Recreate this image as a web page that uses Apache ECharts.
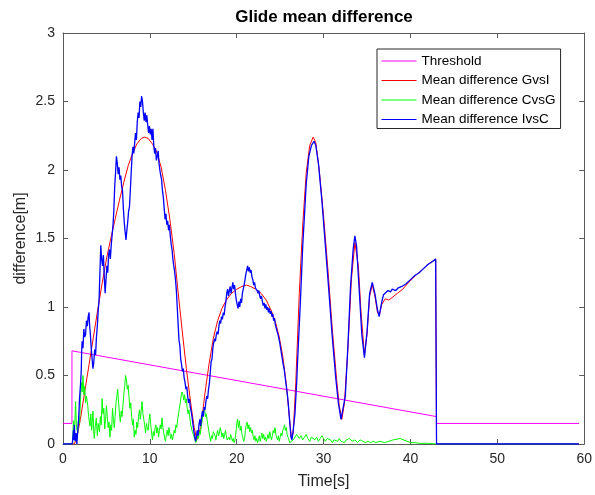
<!DOCTYPE html>
<html>
<head>
<meta charset="utf-8">
<script src="https://cdn.jsdelivr.net/npm/echarts@6/dist/echarts.min.js"></script>
<style>
  html, body { margin: 0; padding: 0; background: #fff; }
  #chart { width: 595px; height: 495px; }
</style>
</head>
<body>
<div id="chart"></div>
<script>
// values, [time s, difference m]
var threshold = [[0, 0.15], [1.03, 0.15], [1.03, 0.68], [43, 0.2], [43, 0.15], [59.4, 0.15]];

var gvsI = [[0,0],[1.3,0],[1.6,0.05],[2,0.18],[2.5,0.38],[3,0.58],[3.5,0.78],[4,0.98],[4.5,1.17],[5,1.35],[5.5,1.5],[6,1.64],[6.5,1.78],[7,1.91],[7.5,2.03],[8,2.12],[8.5,2.19],[9,2.23],[9.4,2.24],[9.8,2.23],[10.3,2.19],[10.8,2.13],[11.3,2.02],[11.8,1.85],[12.3,1.64],[12.8,1.39],[13.2,1.14],[13.7,0.84],[14.2,0.55],[14.7,0.3],[15.1,0.12],[15.4,0.03],[15.6,0.02],[15.9,0.13],[16.3,0.35],[16.8,0.58],[17.3,0.77],[17.8,0.9],[18.3,0.99],[18.8,1.05],[19.4,1.1],[20,1.13],[20.6,1.15],[21.1,1.16],[21.6,1.15],[22.2,1.13],[22.8,1.1],[23.4,1.05],[24,0.97],[24.5,0.88],[24.9,0.78],[25.3,0.64],[25.7,0.44],[26,0.24],[26.3,0.04],[26.5,0.08],[26.8,0.45],[27.2,1.1],[27.6,1.6],[28,1.98],[28.4,2.18],[28.8,2.24],[29.1,2.2],[29.5,2.0],[30,1.66],[30.5,1.27],[31,0.84],[31.5,0.47],[31.8,0.28],[32.1,0.18],[32.4,0.3],[32.8,0.7],[33.2,1.2],[33.6,1.47],[34,1.3],[34.3,0.97],[34.7,0.65],[35,0.8],[35.3,1.08],[35.6,1.16],[35.9,1.08],[36.2,0.96],[36.4,0.94],[36.7,1.02],[37.1,1.06],[37.5,1.05],[37.9,1.07],[38.5,1.1],[39.1,1.13],[39.8,1.18],[40.6,1.23],[41.3,1.27],[42,1.31],[42.9,1.35],[43,1.35],[43,0],[59.4,0]];

var cvsG = [[0,0],[1.1,0],[1.2,0.17],[1.3,0.05],[1.45,0.31],[1.55,0.12],[1.7,0.08],[1.8,0.2],[1.9,0.15],[2.0,0.3],[2.1,0.45],[2.2,0.38],[2.3,0.5],[2.4,0.36],[2.5,0.42],[2.6,0.3],[2.7,0.35],[2.85,0.28],[2.95,0.2],[3.1,0.13],[3.2,0.22],[3.3,0.1],[3.45,0.24],[3.55,0.08],[3.6,0.04],[3.7,0.12],[3.83,0.19],[3.95,0.06],[4.05,0.15],[4.2,0.09],[4.3,0.2],[4.4,0.14],[4.5,0.33],[4.6,0.22],[4.7,0.26],[4.8,0.11],[4.9,0.18],[5.0,0.28],[5.1,0.2],[5.2,0.12],[5.3,0.16],[5.4,0.05],[5.5,0.14],[5.6,0.1],[5.7,0.26],[5.8,0.18],[5.9,0.12],[6.0,0.2],[6.1,0.3],[6.2,0.35],[6.3,0.4],[6.4,0.3],[6.5,0.22],[6.6,0.16],[6.7,0.24],[6.8,0.2],[6.9,0.28],[7.0,0.36],[7.1,0.42],[7.2,0.5],[7.3,0.47],[7.4,0.4],[7.5,0.43],[7.6,0.34],[7.7,0.26],[7.8,0.3],[7.9,0.2],[8.0,0.14],[8.1,0.18],[8.2,0.05],[8.3,0.1],[8.4,0.07],[8.5,0.16],[8.6,0.12],[8.7,0.2],[8.8,0.25],[8.9,0.18],[9.0,0.24],[9.1,0.31],[9.2,0.22],[9.3,0.18],[9.4,0.14],[9.5,0.08],[9.6,0.15],[9.7,0.12],[9.8,0.1],[9.9,0.17],[10.0,0.22],[10.1,0.14],[10.2,0.08],[10.3,0.03],[10.4,0.09],[10.5,0.06],[10.6,0.12],[10.7,0.14],[10.8,0.08],[10.9,0.12],[11.0,0.05],[11.1,0.1],[11.2,0.14],[11.3,0.11],[11.4,0.19],[11.5,0.12],[11.6,0.08],[11.7,0.04],[11.8,0.02],[11.9,0.07],[12.0,0.1],[12.1,0.06],[12.2,0.12],[12.3,0.08],[12.4,0.04],[12.5,0.07],[12.6,0.03],[12.7,0.06],[12.8,0.1],[12.9,0.08],[13.0,0.14],[13.1,0.12],[13.2,0.18],[13.3,0.22],[13.4,0.26],[13.5,0.3],[13.6,0.35],[13.7,0.38],[13.8,0.36],[13.9,0.32],[14.0,0.36],[14.1,0.3],[14.2,0.33],[14.3,0.26],[14.4,0.22],[14.5,0.25],[14.6,0.19],[14.7,0.14],[14.8,0.11],[14.9,0.09],[15.0,0.07],[15.1,0.05],[15.2,0.03],[15.3,0.01],[15.4,0.02],[15.5,0.06],[15.6,0.04],[15.7,0.09],[15.8,0.07],[15.9,0.12],[16.0,0.16],[16.1,0.21],[16.2,0.24],[16.3,0.26],[16.4,0.2],[16.5,0.22],[16.6,0.17],[16.7,0.16],[16.8,0.09],[16.9,0.05],[17.0,0.02],[17.1,0.06],[17.2,0.04],[17.3,0.09],[17.4,0.1],[17.5,0.06],[17.6,0.03],[17.7,0.07],[17.8,0.1],[17.9,0.06],[18.0,0.08],[18.1,0.12],[18.2,0.09],[18.3,0.05],[18.4,0.08],[18.5,0.04],[18.6,0.07],[18.7,0.1],[18.8,0.06],[18.9,0.03],[19.0,0.02],[19.1,0.05],[19.2,0.03],[19.3,0.07],[19.4,0.05],[19.5,0.02],[19.6,0.04],[19.7,0.01],[19.8,0.03],[19.9,0.08],[20.0,0.15],[20.1,0.18],[20.2,0.12],[20.3,0.17],[20.4,0.1],[20.5,0.13],[20.6,0.07],[20.7,0.05],[20.8,0.02],[20.9,0.04],[21.0,0.1],[21.1,0.14],[21.2,0.16],[21.3,0.11],[21.4,0.14],[21.5,0.09],[21.6,0.12],[21.7,0.08],[21.8,0.1],[21.9,0.05],[22.0,0.03],[22.1,0.06],[22.2,0.02],[22.3,0.04],[22.4,0.01],[22.5,0.03],[22.6,0.06],[22.7,0.02],[22.8,0.05],[22.9,0.08],[23.0,0.04],[23.1,0.07],[23.2,0.03],[23.3,0.05],[23.4,0.02],[23.5,0.04],[23.6,0.07],[23.7,0.04],[23.8,0.09],[23.9,0.06],[24.0,0.03],[24.1,0.06],[24.2,0.1],[24.3,0.08],[24.4,0.12],[24.5,0.07],[24.6,0.05],[24.7,0.03],[24.8,0.06],[24.9,0.02],[25.0,0.05],[25.1,0.08],[25.2,0.06],[25.3,0.1],[25.4,0.12],[25.5,0.14],[25.6,0.1],[25.7,0.12],[25.8,0.07],[25.9,0.05],[26.0,0.03],[26.1,0.01],[26.2,0.02],[26.3,0.0],[26.5,0.03],[26.7,0.05],[26.9,0.07],[27.0,0.06],[27.2,0.04],[27.4,0.06],[27.6,0.03],[27.8,0.05],[28.0,0.07],[28.2,0.04],[28.4,0.02],[28.6,0.05],[28.8,0.06],[29.0,0.03],[29.2,0.05],[29.4,0.02],[29.6,0.04],[29.8,0.06],[30.0,0.04],[30.2,0.02],[30.4,0.04],[30.6,0.05],[30.8,0.03],[31.0,0.01],[31.2,0.03],[31.4,0.04],[31.6,0.02],[31.8,0.04],[32.0,0.02],[32.2,0.03],[32.4,0.01],[32.6,0.03],[32.8,0.02],[33.0,0.04],[33.3,0.02],[33.6,0.03],[33.9,0.01],[34.2,0.03],[34.5,0.02],[34.8,0.01],[35.1,0.02],[35.4,0.01],[35.7,0.02],[36.0,0.01],[36.5,0.02],[37.0,0.01],[37.5,0.02],[38.0,0.03],[38.4,0.035],[38.8,0.04],[39.2,0.03],[39.6,0.02],[40.0,0.01],[40.5,0.01],[41,0.005],[42,0.005],[43,0],[59.4,0]];

var ivsC = [[0,0],[1.05,0],[1.1,0.02],[1.2,0.1],[1.25,0.03],[1.3,0.14],[1.4,0.02],[1.5,0.08],[1.6,0.0],[1.7,0.1],[1.8,0.18],[1.9,0.33],[2.0,0.42],[2.1,0.53],[2.15,0.68],[2.2,0.75],[2.3,0.7],[2.4,0.84],[2.5,0.78],[2.6,0.8],[2.7,0.9],[2.8,0.86],[2.9,0.93],[3.0,0.96],[3.05,0.88],[3.15,0.8],[3.25,0.7],[3.35,0.62],[3.45,0.55],[3.55,0.6],[3.65,0.69],[3.75,0.65],[3.85,0.78],[3.95,0.86],[4.05,0.97],[4.15,1.05],[4.25,1.25],[4.35,1.45],[4.45,1.35],[4.55,1.3],[4.65,1.38],[4.75,1.22],[4.85,1.1],[4.95,1.2],[5.05,1.3],[5.15,1.25],[5.25,1.38],[5.35,1.42],[5.45,1.35],[5.55,1.45],[5.65,1.52],[5.75,1.59],[5.85,1.7],[5.95,1.88],[6.05,1.98],[6.15,2.1],[6.25,2.05],[6.35,1.97],[6.45,2.02],[6.55,1.93],[6.65,1.96],[6.75,1.88],[6.85,1.85],[6.95,1.72],[7.05,1.62],[7.15,1.55],[7.25,1.49],[7.35,1.56],[7.45,1.62],[7.55,1.7],[7.65,1.73],[7.75,1.85],[7.85,1.98],[7.95,2.1],[8.05,2.17],[8.15,2.12],[8.25,2.2],[8.35,2.27],[8.45,2.22],[8.55,2.35],[8.65,2.42],[8.75,2.38],[8.85,2.5],[8.95,2.46],[9.05,2.54],[9.15,2.5],[9.25,2.42],[9.35,2.36],[9.45,2.42],[9.55,2.35],[9.65,2.4],[9.75,2.33],[9.85,2.27],[9.95,2.32],[10.05,2.26],[10.15,2.3],[10.25,2.22],[10.35,2.3],[10.45,2.18],[10.55,2.12],[10.65,2.16],[10.75,2.07],[10.85,2.1],[10.95,2.14],[11.05,2.05],[11.15,2.0],[11.25,1.96],[11.35,1.93],[11.45,1.85],[11.55,1.8],[11.65,1.72],[11.75,1.64],[11.85,1.68],[11.95,1.6],[12.05,1.63],[12.15,1.56],[12.25,1.6],[12.35,1.52],[12.45,1.46],[12.55,1.42],[12.65,1.35],[12.75,1.3],[12.85,1.26],[12.95,1.2],[13.05,1.12],[13.15,1.0],[13.25,0.88],[13.35,0.76],[13.45,0.72],[13.55,0.62],[13.65,0.58],[13.75,0.53],[13.85,0.55],[13.95,0.48],[14.05,0.45],[14.15,0.4],[14.25,0.42],[14.35,0.35],[14.45,0.3],[14.55,0.33],[14.65,0.27],[14.75,0.24],[14.85,0.2],[14.95,0.15],[15.05,0.1],[15.15,0.06],[15.25,0.02],[15.35,0.05],[15.45,0.1],[15.55,0.06],[15.65,0.14],[15.75,0.18],[15.85,0.13],[15.95,0.2],[16.05,0.24],[16.15,0.2],[16.25,0.27],[16.35,0.25],[16.45,0.31],[16.55,0.35],[16.65,0.33],[16.75,0.4],[16.85,0.44],[16.95,0.52],[17.05,0.6],[17.15,0.62],[17.25,0.7],[17.35,0.74],[17.45,0.77],[17.55,0.75],[17.65,0.8],[17.75,0.82],[17.85,0.8],[17.95,0.86],[18.05,0.9],[18.15,0.88],[18.25,0.93],[18.35,0.91],[18.45,0.96],[18.55,0.94],[18.65,1.0],[18.75,1.04],[18.85,1.1],[18.95,1.13],[19.05,1.08],[19.15,1.12],[19.25,1.15],[19.35,1.1],[19.45,1.14],[19.55,1.18],[19.65,1.13],[19.75,1.16],[19.85,1.1],[19.95,1.05],[20.05,1.02],[20.15,0.99],[20.25,1.04],[20.35,1.0],[20.45,1.06],[20.55,1.03],[20.65,1.1],[20.75,1.13],[20.85,1.16],[20.95,1.2],[21.05,1.24],[21.15,1.27],[21.25,1.3],[21.35,1.26],[21.45,1.29],[21.55,1.25],[21.65,1.27],[21.75,1.22],[21.85,1.2],[21.95,1.16],[22.05,1.18],[22.15,1.14],[22.25,1.13],[22.35,1.12],[22.45,1.1],[22.55,1.12],[22.65,1.08],[22.75,1.06],[22.85,1.08],[22.95,1.04],[23.05,1.01],[23.15,1.03],[23.25,0.99],[23.35,1.02],[23.45,0.98],[23.55,1.0],[23.65,0.96],[23.75,0.99],[23.85,0.95],[23.95,0.97],[24.05,0.93],[24.15,0.95],[24.25,0.9],[24.35,0.92],[24.45,0.87],[24.55,0.86],[24.65,0.82],[24.75,0.8],[24.85,0.77],[24.95,0.74],[25.05,0.7],[25.15,0.66],[25.25,0.62],[25.35,0.58],[25.45,0.55],[25.55,0.5],[25.65,0.45],[25.75,0.4],[25.85,0.35],[25.95,0.28],[26.05,0.2],[26.15,0.12],[26.25,0.05],[26.35,0.03],[26.5,0.1],[26.7,0.22],[26.9,0.45],[27.0,0.6],[27.3,1.0],[27.6,1.45],[28.0,1.9],[28.3,2.1],[28.6,2.18],[28.9,2.21],[29.1,2.18],[29.4,2.05],[29.8,1.78],[30.2,1.45],[30.6,1.12],[31.0,0.78],[31.4,0.48],[31.7,0.3],[32.0,0.18],[32.2,0.17],[32.5,0.35],[32.8,0.72],[33.1,1.15],[33.4,1.42],[33.6,1.52],[33.8,1.44],[34.1,1.12],[34.4,0.8],[34.7,0.63],[35.0,0.82],[35.3,1.1],[35.6,1.18],[35.9,1.1],[36.2,0.98],[36.4,0.93],[36.7,1.04],[36.9,1.09],[37.1,1.08],[37.4,1.12],[37.7,1.11],[37.9,1.13],[38.3,1.12],[38.6,1.14],[39.0,1.15],[39.5,1.17],[40.0,1.2],[40.5,1.23],[41.0,1.25],[41.5,1.28],[42.0,1.31],[42.5,1.33],[42.9,1.35],[43,1.35],[43,0],[59.4,0]];

var xTicks = { min: 0, max: 60, step: 10 };
var yTicks = { min: 0, max: 3, step: 0.5 };

var font = "'Liberation Sans', Arial, sans-serif";
var axisColor = '#5a5a5a';

function makeAxis(pos, ticks, showLabel) {
  return {
    type: 'value',
    position: pos,
    min: ticks.min,
    max: ticks.max,
    interval: ticks.step,
    axisLine: { show: true, onZero: false, lineStyle: { color: axisColor, width: 1 } },
    axisTick: { show: true, inside: true, length: 5, lineStyle: { color: axisColor } },
    axisLabel: { show: showLabel, color: '#262626', fontSize: 14, fontFamily: font, margin: 8 },
    splitLine: { show: false }
  };
}

var chart = echarts.init(document.getElementById('chart'));

var xBottom = makeAxis('bottom', xTicks, true);
xBottom.name = 'Time[s]';
xBottom.nameLocation = 'middle';
xBottom.nameGap = 30;
xBottom.nameMoveOverlap = false;
xBottom.nameTextStyle = { color: '#262626', fontSize: 16, fontFamily: font };
var xTop = makeAxis('top', xTicks, false);

var yLeft = makeAxis('left', yTicks, true);
yLeft.name = 'difference[m]';
yLeft.nameLocation = 'middle';
yLeft.nameGap = 34;
yLeft.nameMoveOverlap = false;
yLeft.nameTextStyle = { color: '#262626', fontSize: 16, fontFamily: font };
var yRight = makeAxis('right', yTicks, false);

function lineSeries(name, data, color, width) {
  return {
    name: name,
    type: 'line',
    data: data,
    symbol: 'none',
    showSymbol: false,
    smooth: false,
    lineStyle: { color: color, width: width },
    itemStyle: { color: color },
    xAxisIndex: 0,
    yAxisIndex: 0
  };
}

chart.setOption({
  animation: false,
  backgroundColor: '#fff',
  title: {
    text: 'Glide mean difference',
    left: 324,
    top: 9,
    padding: 0,
    textAlign: 'center',
    textStyle: { color: '#000', fontSize: 17, fontWeight: 'bold', fontFamily: font }
  },
  grid: { left: 63, right: 10, top: 33, bottom: 49, containLabel: false },
  legend: {
    orient: 'vertical',
    left: 377,
    top: 49,
    padding: [5, 5, 2, 4],
    itemGap: 5.5,
    itemWidth: 35,
    itemHeight: 14,
    backgroundColor: '#fff',
    borderColor: '#262626',
    borderWidth: 1,
    borderRadius: 0,
    itemStyle: { opacity: 0 },
    lineStyle: { width: 1 },
    textStyle: { color: '#000', fontSize: 13.5, fontFamily: font },
    data: ['Threshold', 'Mean difference GvsI', 'Mean difference CvsG', 'Mean difference IvsC']
  },
  xAxis: [xBottom, xTop],
  yAxis: [yLeft, yRight],
  series: [
    lineSeries('Threshold', threshold, '#ff00ff', 1),
    lineSeries('Mean difference GvsI', gvsI, '#ff0000', 1),
    lineSeries('Mean difference CvsG', cvsG, '#00ff00', 1),
    lineSeries('Mean difference IvsC', ivsC, '#0000ff', 1.3)
  ]
});
</script>
</body>
</html>
